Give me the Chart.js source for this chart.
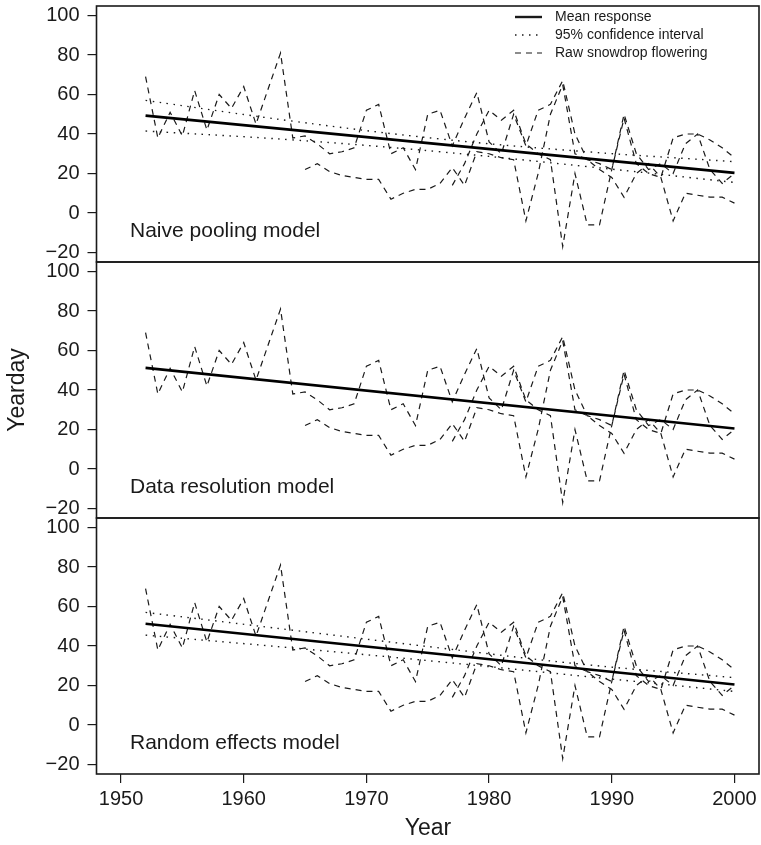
<!DOCTYPE html>
<html>
<head>
<meta charset="utf-8">
<title>Snowdrop flowering</title>
<script src="https://cdn.jsdelivr.net/npm/chart.js@4.4.1/dist/chart.umd.min.js"></script>
<style>
body { margin: 0; background: #fff; }
#wrap { position: relative; width: 761px; height: 845px; }
#wrap canvas { position: absolute; left: 0; top: 0; }
</style>
</head>
<body>
<div id="wrap">
<canvas id="naive" width="761" height="845"></canvas>
<canvas id="resolution" width="761" height="845"></canvas>
<canvas id="random" width="761" height="845"></canvas>
</div>
<script>
//raw flowering day for each recording site
let yearsA = [1952,1953,1954,1955,1956,1957,1958,1959,1960,1961,1962,1963,1964,1965,1966,1967,1968,1969,1970,1971,1972,1973,1974,1975,1976,1977,1978,1979,1980,1981,1982,1983,1984,1985,1986,1987,1988,1989,1990,1991,1992,1993,1994,1995,1996,1997,1998,1999,2000];
let siteA  = [69,38,51,39,62,42,60,53,64,45,63,81,38,39,35,30,31,33,52,55,30,33,22,50,52,34,48,61,36,30,50,34,52,55,67,40,27,25,22,50,30,22,25,20,35,40,22,15,20];

let yearsB = [1965,1966,1967,1968,1969,1970,1971,1972,1973,1974,1975,1976,1977,1978,1979,1980,1981,1982,1983,1984,1985,1986,1987,1988,1989,1990,1991,1992,1993,1994,1995,1996,1997,1998,1999,2000];
let siteB  = [22,25,21,19,18,17,17,7,10,12,12,15,23,14,31,30,28,27,-4,20,50,65,30,27,22,18,8,20,25,18,-4,10,9,8,8,5];

let yearsC = [1977,1978,1979,1980,1981,1982,1983,1984,1985,1986,1987,1988,1989,1990,1991,1992,1993,1994,1995,1996,1997,1998,1999,2000];
let siteC  = [14,25,40,52,47,52,35,30,27,-17,20,-6,-6,22,48,25,20,18,38,40,40,37,33,28];

//fitted lines, one pair of end points per model
let fitYears = [1952, 2000];
let meanNaive = [49.3, 20.3];
let meanResolution = [51.2, 20.5];
let meanRandom = [51.3, 20.5];

//confidence bands
let ciYears = [1952, 1964, 1976, 1988, 2000];
let upperNaive = [57, 46.5, 37.5, 31, 26];
let lowerNaive = [41.5, 37, 31, 23.5, 15.5];
let upperRandom = [57, 48, 39, 30.5, 24];
let lowerRandom = [45.5, 39, 32, 24.5, 17];

let yTicks = [-20, 0, 20, 40, 60, 80, 100];
let xTicks = [1950, 1960, 1970, 1980, 1990, 2000];

let ink = '#1a1a1a';
let fontFamily = '"Liberation Sans", Arial, Helvetica, sans-serif';

function pairs(xs, ys) {
    let out = [];
    for (var i = 0; i < ys.length; i++) {
        out.push({x: xs[i], y: ys[i]});
    }
    return out;
}

function rawSet(xs, ys) {
    return {data: pairs(xs, ys), borderColor: ink, borderWidth: 1.2, borderDash: [6, 5], pointRadius: 0, tension: 0, order: 3};
}

function ciSet(ys) {
    return {data: pairs(ciYears, ys), borderColor: ink, borderWidth: 1.4, borderDash: [1.5, 5.5], pointRadius: 0, tension: 0.4, order: 2};
}

function meanSet(ys) {
    return {data: pairs(fitYears, ys), borderColor: '#000', borderWidth: 2.6, pointRadius: 0, order: 1};
}

// box around each panel plus its name in the lower left corner
let panelFrame = {
    id: 'panelFrame',
    afterDraw: function (chart, args, opts) {
        let a = chart.chartArea;
        let ctx = chart.ctx;
        ctx.save();
        ctx.strokeStyle = ink;
        ctx.lineWidth = 1.6;
        ctx.strokeRect(a.left, a.top, a.right - a.left, a.bottom - a.top);
        ctx.fillStyle = ink;
        ctx.font = '21px ' + fontFamily;
        ctx.textBaseline = 'alphabetic';
        ctx.fillText(opts.text, 130, a.bottom - 25);
        ctx.restore();
    }
};

// legend in the top right of the first panel
let lineKey = {
    id: 'lineKey',
    afterDraw: function (chart) {
        let ctx = chart.ctx;
        let rows = [
            {text: 'Mean response', dash: [], width: 2.4},
            {text: '95% confidence interval', dash: [1.5, 5.5], width: 1.4},
            {text: 'Raw snowdrop flowering', dash: [6, 5], width: 1.2}
        ];
        ctx.save();
        ctx.fillStyle = ink;
        ctx.strokeStyle = ink;
        ctx.font = '14px ' + fontFamily;
        ctx.textBaseline = 'middle';
        for (var i = 0; i < rows.length; i++) {
            let y = 17 + i * 18;
            ctx.beginPath();
            ctx.setLineDash(rows[i].dash);
            ctx.lineWidth = rows[i].width;
            ctx.moveTo(515, y);
            ctx.lineTo(542, y);
            ctx.stroke();
            ctx.fillText(rows[i].text, 555, y);
        }
        ctx.restore();
    }
};

// axis titles shared by the whole figure
let axisTitles = {
    id: 'axisTitles',
    afterDraw: function (chart) {
        let ctx = chart.ctx;
        ctx.save();
        ctx.fillStyle = ink;
        ctx.font = '23px ' + fontFamily;
        ctx.textAlign = 'center';
        ctx.textBaseline = 'middle';
        ctx.fillText('Year', 428, 829);
        ctx.translate(18, 390);
        ctx.rotate(-Math.PI / 2);
        ctx.fillText('Yearday', 0, 0);
        ctx.restore();
    }
};

// keep the plot box where the layout padding puts it
function noLabelPadding(scale) {
    scale.paddingTop = 0;
    scale.paddingBottom = 0;
    scale.paddingLeft = 0;
    scale.paddingRight = 0;
}

function makePanel(id, top, bottom, datasets, label, showX, extra) {
    let ctx = document.getElementById(id).getContext('2d');
    return new Chart(ctx, {
        type: 'line',
        data: {datasets: datasets},
        options: {
            responsive: false,
            animation: false,
            events: [],
            layout: {padding: {top: top, bottom: showX ? 0 : 845 - bottom, left: 0, right: 2}},
            plugins: {legend: {display: false}, tooltip: {enabled: false}, panelFrame: {text: label}},
            scales: {
                x: {
                    type: 'linear',
                    min: 1948,
                    max: 2002,
                    display: showX,
                    afterBuildTicks: function (scale) { scale.ticks = xTicks.map(v => ({value: v})); },
                    afterFit: function (scale) {
                        if (showX) { scale.height = 845 - bottom; }
                        noLabelPadding(scale);
                    },
                    grid: {drawOnChartArea: false, drawTicks: true, tickLength: 9, color: ink, lineWidth: 1.2},
                    border: {display: false},
                    ticks: {color: ink, font: {family: fontFamily, size: 20}, padding: 4, maxRotation: 0, autoSkip: false,
                        callback: v => String(v)}
                },
                y: {
                    type: 'linear',
                    min: -24.8,
                    max: 104.8,
                    afterBuildTicks: function (scale) { scale.ticks = yTicks.map(v => ({value: v})); },
                    afterFit: function (scale) {
                        scale.width = 96.5;
                        noLabelPadding(scale);
                    },
                    grid: {drawOnChartArea: false, drawTicks: true, tickLength: 9, color: ink, lineWidth: 1.2},
                    border: {display: false},
                    ticks: {color: ink, font: {family: fontFamily, size: 20}, padding: 8,
                        callback: v => String(v).replace('-', '\u2212')}
                }
            }
        },
        plugins: [panelFrame].concat(extra)
    });
}

let raw = function () {
    return [rawSet(yearsA, siteA), rawSet(yearsB, siteB), rawSet(yearsC, siteC)];
};

makePanel('naive', 6, 262,
    [meanSet(meanNaive), ciSet(upperNaive), ciSet(lowerNaive)].concat(raw()),
    'Naive pooling model', false, [lineKey]);

makePanel('resolution', 262, 518,
    [meanSet(meanResolution)].concat(raw()),
    'Data resolution model', false, []);

makePanel('random', 518, 774,
    [meanSet(meanRandom), ciSet(upperRandom), ciSet(lowerRandom)].concat(raw()),
    'Random effects model', true, [axisTitles]);
</script>
</body>
</html>
